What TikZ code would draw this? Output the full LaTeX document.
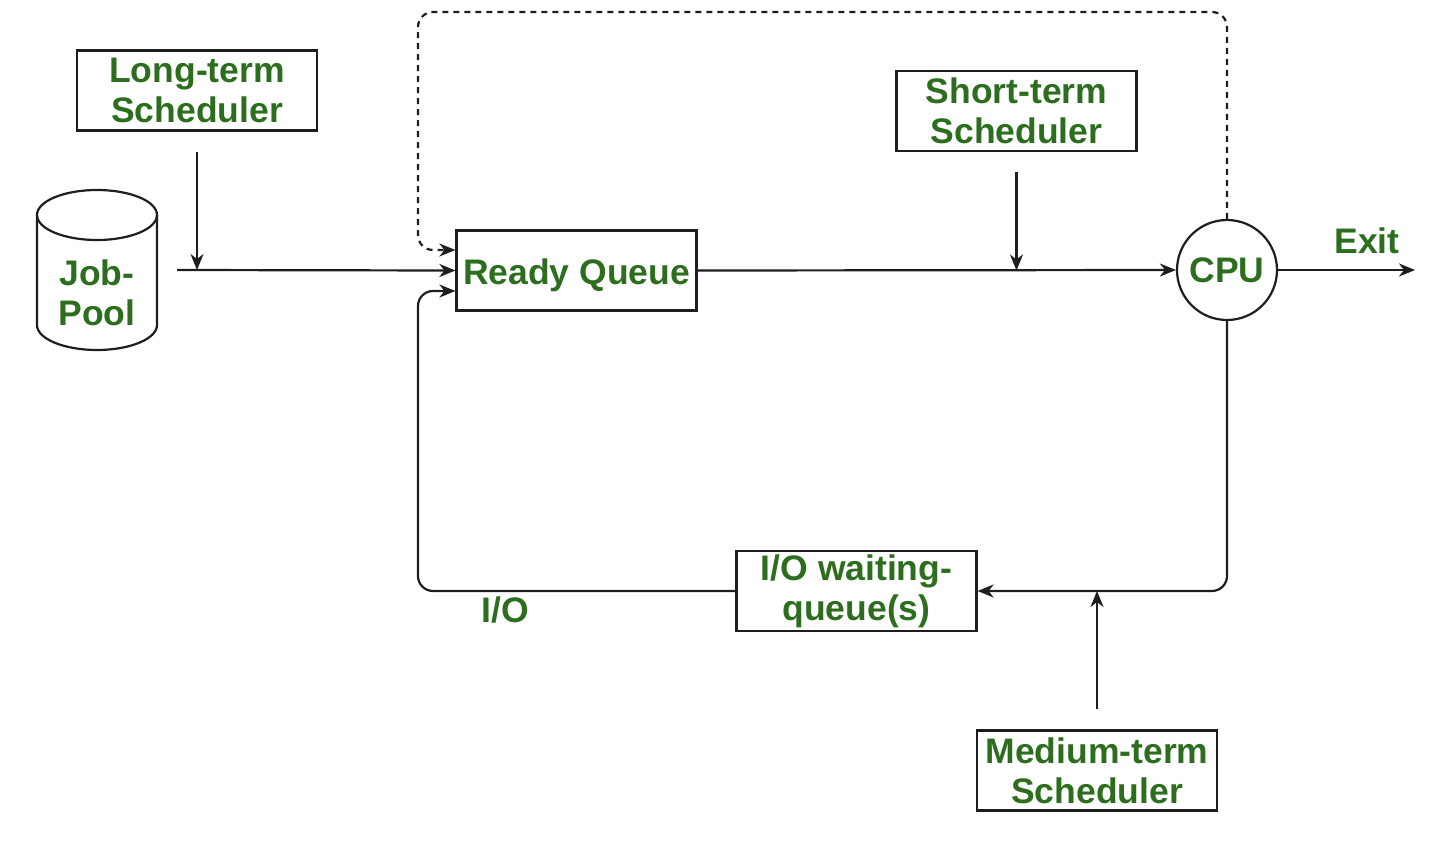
\documentclass[tikz,border=0pt]{standalone}
\usepackage{fontspec}
\setmainfont{Liberation Sans}
\usetikzlibrary{arrows.meta}
\definecolor{txtgreen}{RGB}{44,110,30}
\definecolor{linegray}{RGB}{30,30,30}
\tikzset{
  lbl/.style={font=\fontsize{35.5}{40}\selectfont\bfseries, text=txtgreen, align=center},
  boxnode/.style={lbl, draw=linegray, line width=2.2pt, minimum width=240pt, minimum height=80pt, inner sep=0pt},
  conn/.style={draw=linegray, line width=2.2pt},
  arr/.style={conn, -{Stealth[length=16pt,width=13pt,inset=5pt]}},
}
\begin{document}
\begin{tikzpicture}[x=1pt,y=-1pt]
\useasboundingbox (0,0) rectangle (1452,846);
% boxes
\node[boxnode] (lt) at (197,90.5) {Long-term\\Scheduler};
\node[boxnode] (st) at (1016.5,111) {Short-term\\Scheduler};
\node[boxnode] (rq) at (576.5,270.5) {\raisebox{-13.5pt}[0pt][0pt]{Ready Queue}};
\node[boxnode] (io) at (856.5,591) {I/O waiting-\\queue(s)};
\node[boxnode] (mt) at (1097,770.5) {Medium-term\\Scheduler};
\node[lbl, draw=linegray, line width=2.2pt, circle, minimum size=100pt, inner sep=0pt] (cpu) at (1227,270) {CPU};
% job pool cylinder
\fill[white] (37,215) -- (37,325) arc[start angle=180,end angle=360,x radius=60pt,y radius=25pt] -- (157,215) -- cycle;
\draw[conn] (37,215) -- (37,325) arc[start angle=180,end angle=360,x radius=60pt,y radius=25pt] -- (157,215);
\draw[conn] (97,215) ellipse [x radius=60pt, y radius=25pt];
\node[lbl, minimum width=120pt, minimum height=160pt, inner sep=0pt] (jp) at (97,293) {Job-\\Pool};
\coordinate (jpout) at (177,270);
% connectors
\draw[arr] (jpout) -- (rq.west);
\draw[arr] ([yshift=-20pt]lt.south) -- (lt.south |- jpout);
\draw[arr, dashed, dash pattern=on 6pt off 5pt, rounded corners=15pt] (cpu.north) -- (1227,12) -- (418,12) -- (418,250) -- ([yshift=20.5pt]rq.west);
\draw[arr, rounded corners=15pt] (io.west) -- (418,591) -- (418,291) -- ([yshift=-20.5pt]rq.west);
\draw[arr] (rq.east) -- (cpu.west);
\draw[arr] ([yshift=-20pt]st.south) -- (st.south |- rq.east);
\coordinate (exitpt) at (1415,270);
\draw[arr] (cpu.east) -- (exitpt);
\node[lbl] (exitlbl) at (1367,241) {Exit};
\draw[arr, rounded corners=15pt] (cpu.south) -- (1227,591) -- (io.east);
\draw[arr] ([yshift=20pt]mt.north) -- (mt.north |- io.east);
\node[lbl] (iolbl) at (505,610) {I/O};
\end{tikzpicture}
\end{document}
